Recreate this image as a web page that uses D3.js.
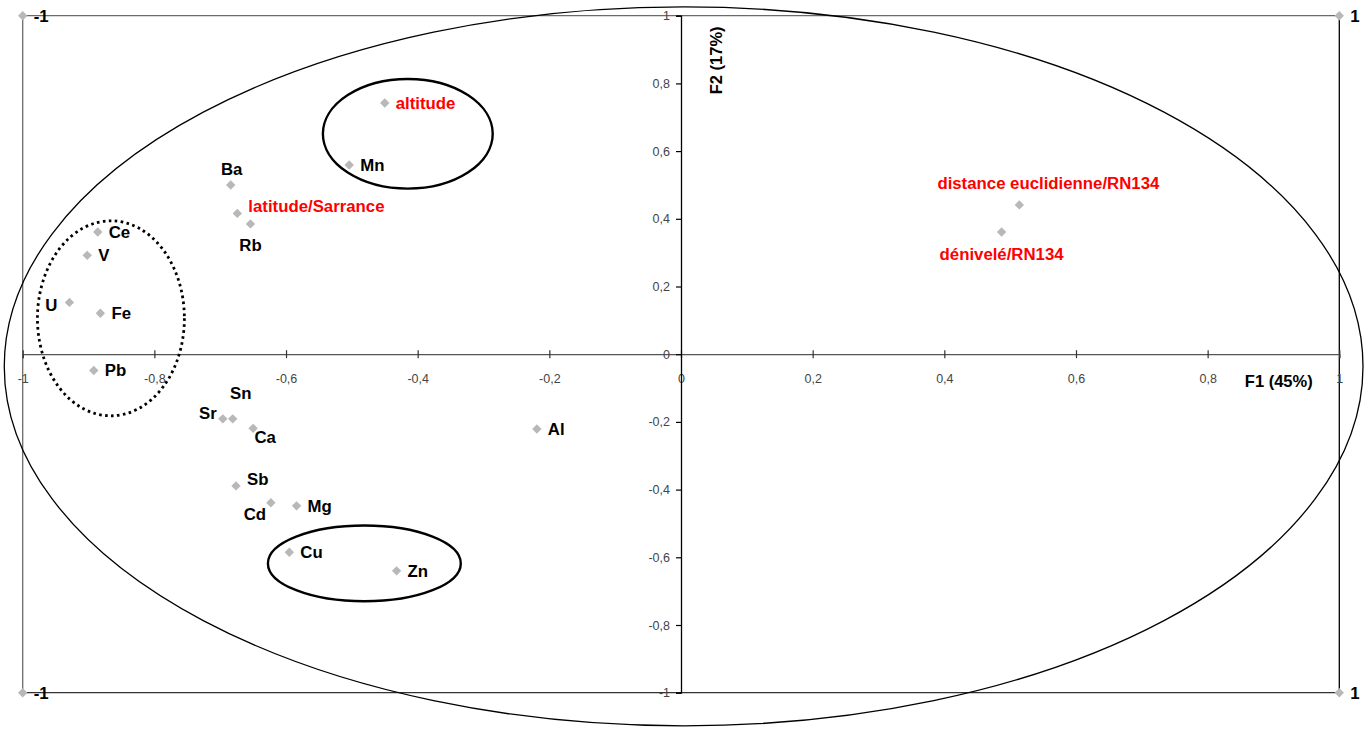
<!DOCTYPE html>
<html><head><meta charset="utf-8">
<script src="https://cdn.jsdelivr.net/npm/d3@7"></script>
<style>
html,body{margin:0;padding:0;background:#fff;}
svg text{font-family:"Liberation Sans",Arial,sans-serif;}
</style></head>
<body>
<svg id="chart" width="1372" height="729"></svg>
<script>
// ---- data ----
const variables = ["altitude","Mn","Ba","latitude/Sarrance","Rb","Ce","V","U","Fe","Pb","Sr","Sn","Ca","Al","Sb","Cd","Mg","Cu","Zn","distance euclidienne/RN134","dénivelé/RN134"];
const f1 = [-0.450,-0.504,-0.684,-0.674,-0.654,-0.886,-0.902,-0.929,-0.882,-0.892,-0.696,-0.681,-0.650,-0.219,-0.676,-0.623,-0.584,-0.595,-0.432,0.514,0.487];
const f2 = [0.742,0.559,0.500,0.416,0.385,0.361,0.292,0.153,0.121,-0.048,-0.191,-0.191,-0.219,-0.221,-0.389,-0.439,-0.448,-0.585,-0.640,0.441,0.361];
const variableType = ["supp","active","active","supp","active","active","active","active","active","active","active","active","active","active","active","active","active","active","active","supp","supp"];
const labelPlacement = ["right","right","top","right-up","bottom","right","right","left","right","right","left-up","top-right","bottom-right","right","right-up","bottom-left","right","right","right","top-far-right","bottom"];

const cornerX = [-1, 1, -1, 1];
const cornerY = [1, 1, -1, -1];
const cornerLabels = ["-1","1","-1","1"];

const xTicks = [-1,-0.8,-0.6,-0.4,-0.2,0,0.2,0.4,0.6,0.8,1];
const yTicks = [-1,-0.8,-0.6,-0.4,-0.2,0,0.2,0.4,0.6,0.8,1];
const xTitle = "F1 (45%)";
const yTitle = "F2 (17%)";

// annotation ellipses (centre and radii in axis units)
const ellipseCx = [0.004, -0.415, -0.481, -0.866];
const ellipseCy = [-0.036, 0.651, -0.618, 0.106];
const ellipseRx = [1.032, 0.129, 0.1465, 0.1116];
const ellipseRy = [1.062, 0.162, 0.112, 0.288];
const ellipseKind = ["thin","solid","solid","dotted"];

// ---- drawing ----
const svg = d3.select("#chart");
const x = d3.scaleLinear().domain([-1,1]).range([22.7,1339.3]);
const y = d3.scaleLinear().domain([-1,1]).range([692.7,15.7]);
const fmt = v => (v===0?"0":d3.format(".1f")(v).replace(".",",").replace(/,0$/,"").replace("−","-"));

// frame
const g = svg.append("g");
g.append("line").attr("x1",x(-1)).attr("x2",x(1)).attr("y1",y(1)).attr("y2",y(1)).attr("stroke","#6a6a6a").attr("stroke-width",1.3);
g.append("line").attr("x1",x(-1)).attr("x2",x(-1)).attr("y1",y(1)).attr("y2",y(-1)).attr("stroke","#6a6a6a").attr("stroke-width",1.3);
g.append("line").attr("x1",x(-1)).attr("x2",x(1)).attr("y1",y(-1)).attr("y2",y(-1)).attr("stroke","#333").attr("stroke-width",1.3);
g.append("line").attr("x1",x(1)).attr("x2",x(1)).attr("y1",y(1)).attr("y2",y(-1)).attr("stroke","#000").attr("stroke-width",1.3);

// x axis
const xAxis = svg.append("g").attr("transform",`translate(0,${y(0)})`)
  .call(d3.axisBottom(x).tickValues(xTicks).tickSize(4).tickFormat(fmt));
xAxis.select(".domain").attr("stroke","#555").attr("stroke-width",1.3);
xAxis.selectAll(".tick line").attr("y1",-4).attr("y2",4).attr("stroke","#333").attr("stroke-width",1.2);
xAxis.selectAll(".tick text").attr("y",24).attr("dy","0.35em").attr("font-size",12.5).attr("fill","#444")
  .style("font-family","'Liberation Sans',Arial,sans-serif");

// y axis
const yAxis = svg.append("g").attr("transform",`translate(${x(0)},0)`)
  .call(d3.axisLeft(y).tickValues(yTicks).tickSize(5).tickFormat(fmt));
yAxis.select(".domain").attr("stroke","#000").attr("stroke-width",1.3);
yAxis.selectAll(".tick line").attr("stroke","#000").attr("stroke-width",1.2);
yAxis.selectAll(".tick text").attr("x",-11).attr("font-size",12.5).attr("fill","#444")
  .style("font-family","'Liberation Sans',Arial,sans-serif");

// axis titles
svg.append("text").attr("x",x(0.908)).attr("y",y(-0.08)).attr("text-anchor","middle").attr("dy","0.35em")
  .attr("font-size",16.5).attr("font-weight","bold").attr("fill","#000").text(xTitle);
svg.append("text").attr("transform",`translate(${x(0.054)},${y(0.868)}) rotate(-90)`).attr("text-anchor","middle").attr("dy","0.35em")
  .attr("font-size",16.5).attr("font-weight","bold").attr("fill","#000").text(yTitle);

// ellipses
const ell = svg.append("g");
ellipseCx.forEach((cx,i)=>{
  const e = ell.append("ellipse").attr("cx",x(cx)).attr("cy",y(ellipseCy[i]))
    .attr("rx",x(ellipseRx[i])-x(0)).attr("ry",y(0)-y(ellipseRy[i]))
    .attr("fill","none").attr("stroke","#000");
  if(ellipseKind[i]==="thin") e.attr("stroke-width",1.3);
  if(ellipseKind[i]==="solid") e.attr("stroke-width",2.4);
  if(ellipseKind[i]==="dotted") e.attr("stroke-width",2.8).attr("stroke-dasharray","2.6,3.4");
});

// markers
const diamond = (cx,cy)=>`M${cx},${cy-4.7}L${cx+4.7},${cy}L${cx},${cy+4.7}L${cx-4.7},${cy}Z`;
const pts = variables.map((v,i)=>({name:v,x:f1[i],y:f2[i],type:variableType[i],pl:labelPlacement[i]}));
const corners = cornerX.map((v,i)=>({name:cornerLabels[i],x:v,y:cornerY[i],type:"corner",pl:"right"}));
const all = corners.concat(pts);
svg.append("g").selectAll("path").data(all).join("path")
  .attr("d",d=>diamond(x(d.x),y(d.y))).attr("fill","#b8b8b8");

const place = {
  "right":[11,0,"start"],
  "left":[-12,3,"end"],
  "top":[1,-16,"middle"],
  "bottom":[0,21.5,"middle"],
  "right-up":[11,-7,"start"],
  "left-up":[-6,-6,"end"],
  "top-right":[8,-26,"middle"],
  "bottom-right":[12,9,"middle"],
  "bottom-left":[-16,11,"middle"],
  "top-far-right":[29,-22,"middle"]
};
svg.append("g").selectAll("text").data(all).join("text")
  .attr("x",d=>x(d.x)+place[d.pl][0])
  .attr("y",d=>y(d.y)+place[d.pl][1])
  .attr("dy","0.36em")
  .attr("text-anchor",d=>place[d.pl][2])
  .attr("font-size",16.8)
  .attr("font-weight","bold")
  .attr("fill",d=>d.type==="supp"?"#ff0000":"#000")
  .text(d=>d.name);
</script>
</body></html>
